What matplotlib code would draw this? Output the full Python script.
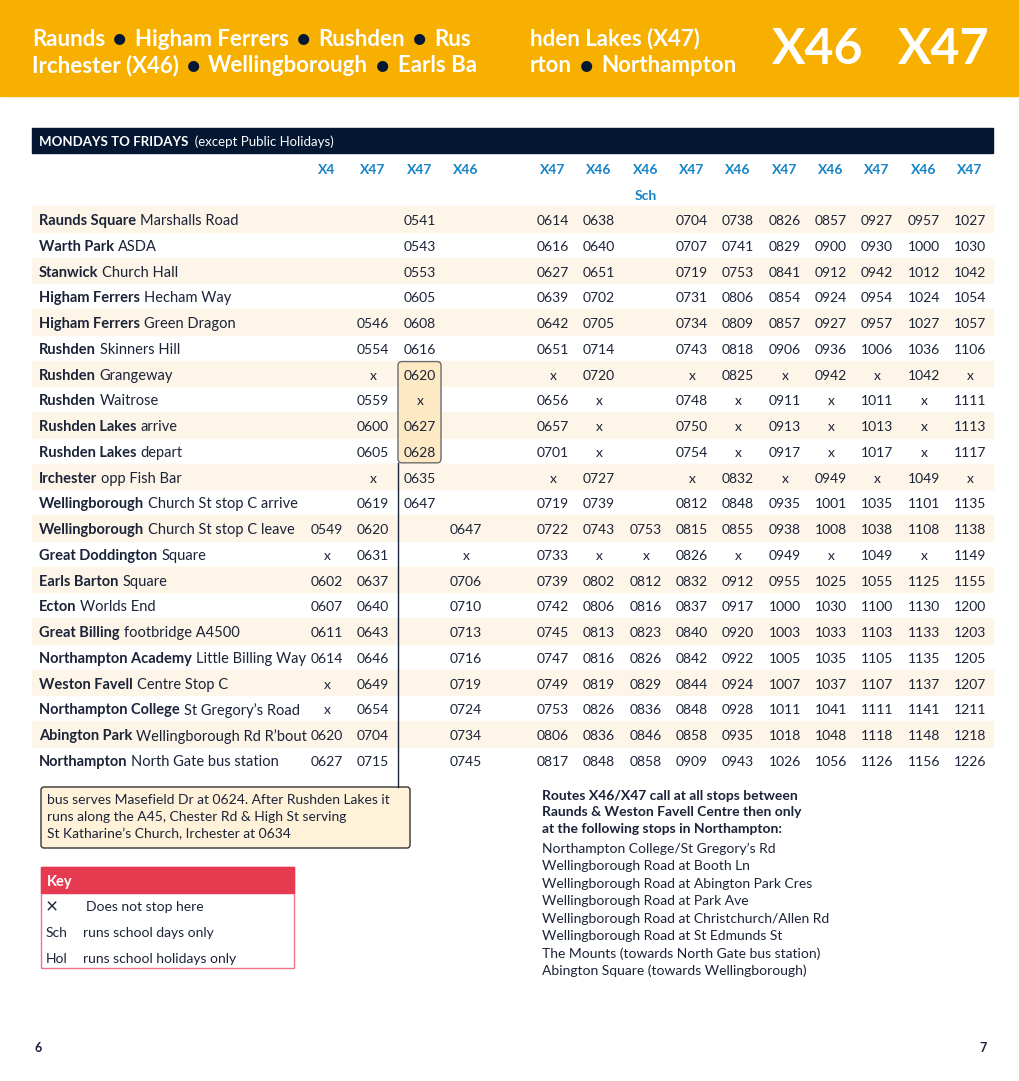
import matplotlib.pyplot as plt
from matplotlib.patches import Rectangle, FancyBboxPatch

plt.rcParams['font.family'] = ['Lato', 'DejaVu Sans']

# ---- data ----
routes = ['X4', 'X47', 'X47', 'X46', 'X47', 'X46', 'X46', 'X47', 'X46', 'X47', 'X46', 'X47', 'X46', 'X47']
route_notes = ['', '', '', '', '', '', 'Sch', '', '', '', '', '', '', '']

stops_bold = ['Raunds Square', 'Warth Park', 'Stanwick', 'Higham Ferrers', 'Higham Ferrers',
              'Rushden', 'Rushden', 'Rushden', 'Rushden Lakes', 'Rushden Lakes', 'Irchester',
              'Wellingborough', 'Wellingborough', 'Great Doddington', 'Earls Barton', 'Ecton',
              'Great Billing', 'Northampton Academy', 'Weston Favell', 'Northampton College',
              'Abington Park', 'Northampton']
stops_rest = ['Marshalls Road', 'ASDA', 'Church Hall', 'Hecham Way', 'Green Dragon',
              'Skinners Hill', 'Grangeway', 'Waitrose', 'arrive', 'depart', 'opp Fish Bar',
              'Church St stop C arrive', 'Church St stop C leave', 'Square', 'Square',
              'Worlds End', 'footbridge A4500', 'Little Billing Way', 'Centre Stop C',
              'St Gregory\u2019s Road', 'Wellingborough Rd R\u2019bout', 'North Gate bus station']

B = ''
col_x4 = [B]*12 + ['0549', 'x', '0602', '0607', '0611', '0614', 'x', 'x', '0620', '0627']
col_x47a = [B]*4 + ['0546', '0554', 'x', '0559', '0600', '0605', 'x', '0619', '0620', '0631',
                    '0637', '0640', '0643', '0646', '0649', '0654', '0704', '0715']
col_x47b = ['0541', '0543', '0553', '0605', '0608', '0616', '0620', 'x', '0627', '0628',
            '0635', '0647'] + [B]*10
col_x46a = [B]*12 + ['0647', 'x', '0706', '0710', '0713', '0716', '0719', '0724', '0734', '0745']
col_x47c = ['0614', '0616', '0627', '0639', '0642', '0651', 'x', '0656', '0657', '0701', 'x',
            '0719', '0722', '0733', '0739', '0742', '0745', '0747', '0749', '0753', '0806', '0817']
col_x46b = ['0638', '0640', '0651', '0702', '0705', '0714', '0720', 'x', 'x', 'x', '0727',
            '0739', '0743', 'x', '0802', '0806', '0813', '0816', '0819', '0826', '0836', '0848']
col_x46sch = [B]*12 + ['0753', 'x', '0812', '0816', '0823', '0826', '0829', '0836', '0846', '0858']
col_x47d = ['0704', '0707', '0719', '0731', '0734', '0743', 'x', '0748', '0750', '0754', 'x',
            '0812', '0815', '0826', '0832', '0837', '0840', '0842', '0844', '0848', '0858', '0909']
col_x46c = ['0738', '0741', '0753', '0806', '0809', '0818', '0825', 'x', 'x', 'x', '0832',
            '0848', '0855', 'x', '0912', '0917', '0920', '0922', '0924', '0928', '0935', '0943']
col_x47e = ['0826', '0829', '0841', '0854', '0857', '0906', 'x', '0911', '0913', '0917', 'x',
            '0935', '0938', '0949', '0955', '1000', '1003', '1005', '1007', '1011', '1018', '1026']
col_x46d = ['0857', '0900', '0912', '0924', '0927', '0936', '0942', 'x', 'x', 'x', '0949',
            '1001', '1008', 'x', '1025', '1030', '1033', '1035', '1037', '1041', '1048', '1056']
col_x47f = ['0927', '0930', '0942', '0954', '0957', '1006', 'x', '1011', '1013', '1017', 'x',
            '1035', '1038', '1049', '1055', '1100', '1103', '1105', '1107', '1111', '1118', '1126']
col_x46e = ['0957', '1000', '1012', '1024', '1027', '1036', '1042', 'x', 'x', 'x', '1049',
            '1101', '1108', 'x', '1125', '1130', '1133', '1135', '1137', '1141', '1148', '1156']
col_x47g = ['1027', '1030', '1042', '1054', '1057', '1106', 'x', '1111', '1113', '1117', 'x',
            '1135', '1138', '1149', '1155', '1200', '1203', '1205', '1207', '1211', '1218', '1226']
columns = [col_x4, col_x47a, col_x47b, col_x46a, col_x47c, col_x46b, col_x46sch,
           col_x47d, col_x46c, col_x47e, col_x46d, col_x47f, col_x46e, col_x47g]

note_lines = ['bus serves Masefield Dr at 0624. After Rushden Lakes it',
              'runs along the A45, Chester Rd & High St serving',
              'St Katharine\u2019s Church, Irchester at 0634']
key_items = [('\u00d7', 'Does not stop here'), ('Sch', 'runs school days only'),
             ('Hol', 'runs school holidays only')]
info_bold = ['Routes X46/X47 call at all stops between',
             'Raunds & Weston Favell Centre then only',
             'at the following stops in Northampton:']
info_lines = ['Northampton College/St Gregory\u2019s Rd',
              'Wellingborough Road at Booth Ln',
              'Wellingborough Road at Abington Park Cres',
              'Wellingborough Road at Park Ave',
              'Wellingborough Road at Christchurch/Allen Rd',
              'Wellingborough Road at St Edmunds St',
              'The Mounts (towards North Gate bus station)',
              'Abington Square (towards Wellingborough)']

# ---- style ----
ORANGE = '#F7AF00'
NAVY = '#031733'
CREAM = '#FEF5E9'
BLUE = '#1583C6'
TXT = '#1B2338'
RED = '#E63A50'
DY = 2  # matplotlib 'center' sits a little high

fig = plt.figure(figsize=(10.2, 10.81), dpi=100)
ax = fig.add_axes([0, 0, 1, 1])
ax.set_xlim(0, 1020)
ax.set_ylim(1081, 0)
ax.axis('off')
rend = fig.canvas.get_renderer()


def run_text(x, y, parts, size, gap=0):
    # place pieces one after another, measuring each one
    for s, color, weight, *sz in parts:
        t = ax.text(x, y + DY, s, color=color, fontweight=weight,
                    fontsize=sz[0] if sz else size, ha='left', va='center', zorder=3)
        x += t.get_window_extent(renderer=rend).width + gap
    return x


# header band
ax.add_patch(Rectangle((0, 0), 1020, 96, color=ORANGE, zorder=0))
W = 'white'
DOT = ('\u25cf', NAVY, 'bold', 16)
run_text(32, 37, [('Raunds', W, 'bold'), DOT, ('Higham Ferrers', W, 'bold'), DOT,
                  ('Rushden', W, 'bold'), DOT, ('Rus', W, 'bold')], 16, gap=8)
run_text(530, 37, [('hden Lakes (X47)', W, 'bold')], 16)
run_text(32, 64, [('Irchester (X46)', W, 'bold'), DOT, ('Wellingborough', W, 'bold'), DOT,
                  ('Earls Ba', W, 'bold')], 16, gap=8)
run_text(530, 64, [('rton', W, 'bold'), DOT, ('Northampton', W, 'bold')], 16, gap=8)
ax.text(772, 50, 'X46', color=W, fontsize=36, fontweight='bold', ha='left', va='center')
ax.text(898, 50, 'X47', color=W, fontsize=36, fontweight='bold', ha='left', va='center')

# day bar
ax.add_patch(Rectangle((32, 128), 961, 25, color=NAVY, zorder=0))
run_text(39, 140, [('MONDAYS TO FRIDAYS', W, 'bold'), ('  (except Public Holidays)', W, 'normal')],
         9.5)

col_x = [327, 373, 420, 466, 553, 599, 646, 692, 738, 785, 831, 877, 924, 970]
for cx, r, n in zip(col_x, routes, route_notes):
    ax.text(cx, 168 + DY, r, color=BLUE, fontsize=10, fontweight='bold', ha='center', va='center')
    if n:
        ax.text(cx, 194 + DY, n, color=BLUE, fontsize=10, fontweight='bold', ha='center', va='center')

row_y0, row_h = 219, 25.76
for i in range(len(stops_bold)):
    y = row_y0 + i * row_h
    if i % 2 == 0:
        ax.add_patch(Rectangle((32, y - 13), 961, 25.5, color=CREAM, zorder=0))
    run_text(39, y, [(stops_bold[i], TXT, 'bold'), (stops_rest[i], TXT, 'normal')], 10.5, gap=4)

# Rushden Lakes highlight
ax.add_patch(FancyBboxPatch((398, row_y0 + 6 * row_h - 12), 43, 3 * row_h + 24,
                            boxstyle='round,pad=0,rounding_size=4', fc='#FDE9C4',
                            ec='#6b6b6b', lw=1, zorder=1))
ax.plot([398, 398], [row_y0 + 9 * row_h + 12, 787], color=TXT, lw=1, zorder=2)

for cx, col in zip(col_x, columns):
    for i, v in enumerate(col):
        if v:
            ax.text(cx, row_y0 + i * row_h + DY, v, color=TXT, fontsize=10, ha='center',
                    va='center', zorder=3)

# note box
ax.add_patch(FancyBboxPatch((41, 787), 369, 61, boxstyle='round,pad=0,rounding_size=3',
                            fc='#FFF2D9', ec='#333333', lw=1, zorder=1))
for k, line in enumerate(note_lines):
    ax.text(47, 798 + k * 17 + DY, line, color=TXT, fontsize=10, ha='left', va='center', zorder=3)

# key
ax.add_patch(Rectangle((41, 867), 253, 101, fc='white', ec='#EE7384', lw=1, zorder=1))
ax.add_patch(Rectangle((41, 867), 253, 26, color=RED, zorder=2))
ax.text(47, 880 + DY, 'Key', color=W, fontsize=10.5, fontweight='bold', ha='left', va='center',
        zorder=3)
for k, (sym, desc) in enumerate(key_items):
    y = 905 + k * 26 + DY
    ax.text(46, y, sym, color=TXT, fontsize=15 if k == 0 else 10, ha='left', va='center', zorder=3)
    ax.text(86 if k == 0 else 83, y, desc, color=TXT, fontsize=10, ha='left', va='center', zorder=3)

# stops information
for k, line in enumerate(info_bold):
    ax.text(542, 794 + k * 16.5 + DY, line, color=TXT, fontsize=10, fontweight='bold',
            ha='left', va='center')
for k, line in enumerate(info_lines):
    ax.text(542, 847 + k * 17.45 + DY, line, color=TXT, fontsize=10, ha='left', va='center')

ax.text(38, 1046 + DY, '6', color=TXT, fontsize=9, fontweight='bold', ha='center', va='center')
ax.text(983, 1046 + DY, '7', color=TXT, fontsize=9, fontweight='bold', ha='center', va='center')

fig.savefig('out.png', dpi=100)
